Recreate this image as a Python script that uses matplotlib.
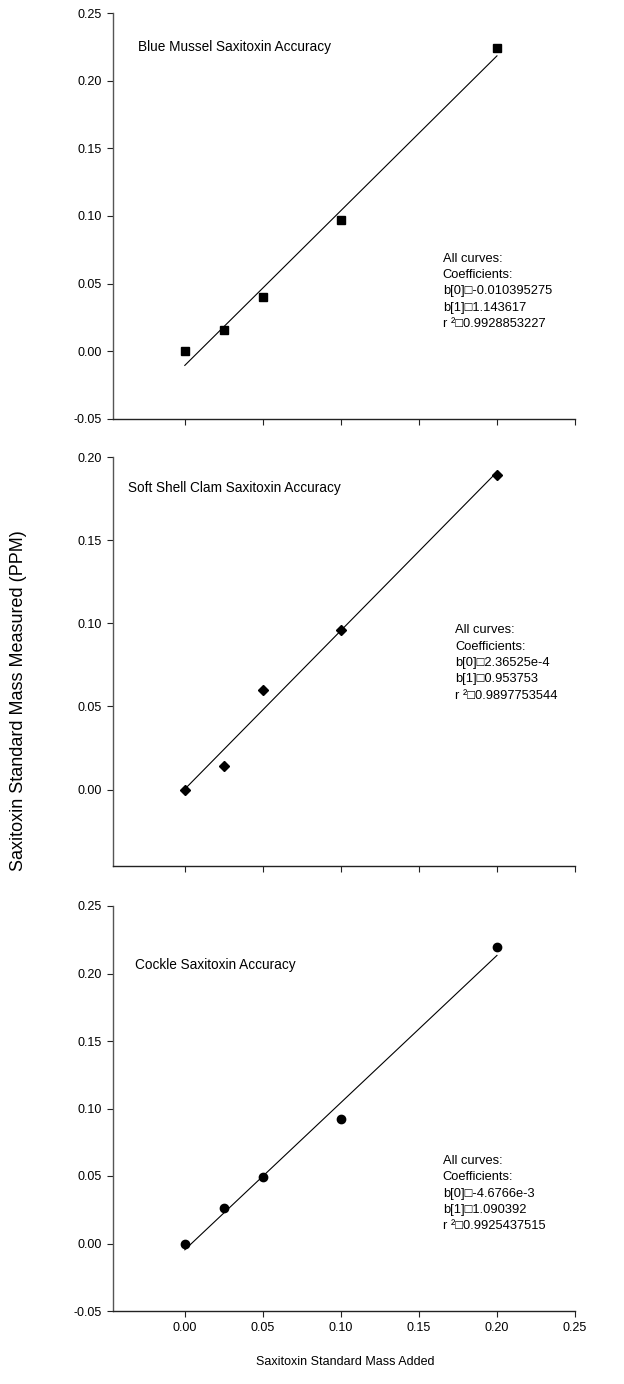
import matplotlib
matplotlib.use("Agg")
import matplotlib.pyplot as plt
import numpy as np

plt.rcParams['font.family'] = ['Liberation Sans', 'DejaVu Sans']

# data
added = [0.0, 0.025, 0.05, 0.10, 0.20]

mussel = [0.0, 0.016, 0.040, 0.097, 0.224]
clam = [0.0, 0.014, 0.060, 0.096, 0.189]
cockle = [0.0, 0.026, 0.049, 0.092, 0.220]

mussel_b = [-0.010395275, 1.143617]
clam_b = [2.36525e-4, 0.953753]
cockle_b = [-4.6766e-3, 1.090392]

mussel_r2 = "0.9928853227"
clam_r2 = "0.9897753544"
cockle_r2 = "0.9925437515"
mussel_b_txt = ["-0.010395275", "1.143617"]
clam_b_txt = ["2.36525e-4", "0.953753"]
cockle_b_txt = ["-4.6766e-3", "1.090392"]

titles = ["Blue Mussel Saxitoxin Accuracy",
          "Soft Shell Clam Saxitoxin Accuracy",
          "Cockle Saxitoxin Accuracy"]

x_ticks = [0.00, 0.05, 0.10, 0.15, 0.20, 0.25]

fig = plt.figure(figsize=(6.24, 13.84), dpi=100)

W, H = 624.0, 1384.0
# (left, top, right, bottom) in pixels
boxes = [(113, 13, 575, 419), (113, 457, 575, 866), (113, 906, 575, 1311)]

panels = [
    (mussel, mussel_b, mussel_b_txt, mussel_r2, 's', 6.0, (-0.05, 0.25),
     [-0.05, 0.0, 0.05, 0.10, 0.15, 0.20, 0.25], (0.054, 0.916), (0.714, 0.410)),
    (clam, clam_b, clam_b_txt, clam_r2, 'D', 5.5, (-0.046, 0.20),
     [0.0, 0.05, 0.10, 0.15, 0.20], (0.032, 0.924), (0.740, 0.591)),
    (cockle, cockle_b, cockle_b_txt, cockle_r2, 'o', 6.0, (-0.05, 0.25),
     [-0.05, 0.0, 0.05, 0.10, 0.15, 0.20, 0.25], (0.048, 0.854), (0.714, 0.385)),
]

axes = []
for i, (yv, b, btxt, r2, mk, ms, ylim, yt, tpos, apos) in enumerate(panels):
    l, t, r, btm = boxes[i]
    ax = fig.add_axes([l / W, 1 - btm / H, (r - l) / W, (btm - t) / H])
    axes.append(ax)

    ax.plot(added, yv, linestyle='none', marker=mk, markersize=ms, color='black')
    xf = np.array([added[0], added[-1]])
    ax.plot(xf, b[0] + b[1] * xf, color='black', lw=0.8)

    ax.set_xlim(-0.046, 0.25)
    ax.set_ylim(*ylim)
    ax.set_xticks(x_ticks)
    ax.set_yticks(yt)
    ax.yaxis.set_major_formatter(plt.FormatStrFormatter('%.2f'))
    ax.xaxis.set_major_formatter(plt.FormatStrFormatter('%.2f'))
    if i < 2:
        ax.tick_params(axis='x', labelbottom=False)

    for s in ['top', 'right']:
        ax.spines[s].set_visible(False)
    ax.spines['left'].set_color('#555555')
    ax.spines['bottom'].set_color('#222222')
    ax.spines['left'].set_linewidth(1.0)
    ax.spines['bottom'].set_linewidth(1.0)
    ax.tick_params(direction='out', length=4, width=0.8, labelsize=9,
                   colors='#222222', labelcolor='black', pad=4)

    ax.text(tpos[0], tpos[1], titles[i], transform=ax.transAxes,
            fontsize=9.8, va='center', ha='left')
    note = ("All curves:\nCoefficients:\n"
            "b[0]\u25a1" + btxt[0] + "\n"
            "b[1]\u25a1" + btxt[1] + "\n"
            "r \u00b2\u25a1" + r2)
    ax.text(apos[0], apos[1], note, transform=ax.transAxes,
            fontsize=9.3, va='top', ha='left', linespacing=1.48)

fig.text(0.030, 0.494, "Saxitoxin Standard Mass Measured (PPM)", rotation=90,
         fontsize=13, va='center', ha='center')
fig.text(0.553, 0.016, "Saxitoxin Standard Mass Added", fontsize=9,
         va='center', ha='center')

fig.savefig("out.png", dpi=100)
